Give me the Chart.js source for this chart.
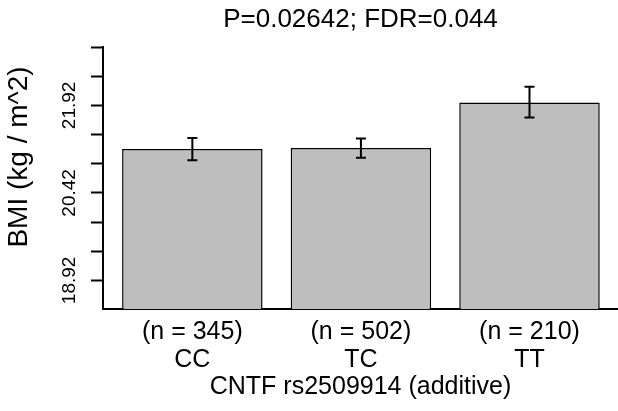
<!DOCTYPE html>
<html lang="en">
<head>
    <title>CNTF rs2509914 BMI</title>
    <meta charset="utf-8">
    <script src="https://cdn.jsdelivr.net/npm/chart.js"></script>
</head>
<style>
  body {
    margin: 0;
    background-color: #ffffff;
    overflow: hidden;
  }

  .chart-box {
    width: 618px;
    height: 411px;
  }
</style>
<body>

  <div class="chart-box">
    <canvas id="myChart"></canvas>
  </div>

  <script>
    const genotypes = ["CC", "TC", "TT"];
    const sampleSizes = ["(n = 345)", "(n = 502)", "(n = 210)"];
    const bmiMeans = [21.17, 21.19, 21.97];
    const bmiLower = [20.98, 21.02, 21.71];
    const bmiUpper = [21.36, 21.35, 22.24];
    const yTicks = [18.92, 19.42, 19.92, 20.42, 20.92, 21.42, 21.92, 22.42, 22.92];
    const yTickLabels = ["18.92", "20.42", "21.92"];
    const yAxisTitle = "BMI (kg / m^2)";

    // R barplot layout: width 1, space 0.2
    const barX = i => 0.7 + 1.2 * i;

    const fontFamily = "'Liberation Sans', Arial, Helvetica, sans-serif";

    const errorBars = {
      id: "errorBars",
      afterDatasetsDraw(chart) {
        const ctx = chart.ctx;
        const y = chart.scales.y;
        const bars = chart.getDatasetMeta(0).data;
        ctx.save();
        ctx.strokeStyle = "#000";
        ctx.lineWidth = 2;
        bars.forEach((bar, i) => {
          const top = y.getPixelForValue(bmiUpper[i]);
          const bot = y.getPixelForValue(bmiLower[i]);
          ctx.beginPath();
          ctx.moveTo(bar.x, top);
          ctx.lineTo(bar.x, bot);
          ctx.moveTo(bar.x - 5, top);
          ctx.lineTo(bar.x + 5, top);
          ctx.moveTo(bar.x - 5, bot);
          ctx.lineTo(bar.x + 5, bot);
          ctx.stroke();
        });
        ctx.restore();
      }
    };

    // y label sits a bit above the middle of the axis, like the R plot
    const yTitle = {
      id: "yTitle",
      afterDraw(chart) {
        const ctx = chart.ctx;
        ctx.save();
        ctx.translate(19, 157);
        ctx.rotate(-Math.PI / 2);
        ctx.font = "28px " + fontFamily;
        ctx.fillStyle = "#000";
        ctx.textAlign = "center";
        ctx.textBaseline = "middle";
        ctx.fillText(yAxisTitle, 0, 0);
        ctx.restore();
      }
    };

    new Chart("myChart", {
      type: "bar",
      data: {
        datasets: [{
          data: bmiMeans.map((v, i) => ({ x: barX(i), y: v })),
          backgroundColor: "#bebebe",
          borderColor: "#000",
          borderWidth: 1.5,
          categoryPercentage: 1,
          barPercentage: 1 / 1.2
        }]
      },
      options: {
        responsive: true,
        maintainAspectRatio: false,
        animation: false,
        layout: { padding: 0 },
        plugins: {
          legend: { display: false },
          tooltip: { enabled: false },
          title: {
            display: true,
            fullSize: false,
            text: "P=0.02642; FDR=0.044",
            color: "#000",
            font: { family: fontFamily, size: 26, weight: "normal", lineHeight: 1.2 },
            padding: { top: 4.4, bottom: 11.4 }
          }
        },
        scales: {
          x: {
            type: "linear",
            offset: false,
            min: 0.064,
            max: 3.73,
            afterBuildTicks: scale => {
              scale.ticks = genotypes.map((g, i) => ({ value: barX(i) }));
            },
            afterFit: scale => { scale.height = 102; },
            grid: { display: false, drawTicks: false, offset: false },
            border: { display: true, color: "#000", width: 2 },
            ticks: {
              color: "#000",
              padding: 9,
              autoSkip: false,
              maxRotation: 0,
              font: { family: fontFamily, size: 25, lineHeight: 1.12 },
              callback: (value, index) => [sampleSizes[index], genotypes[index]]
            },
            title: {
              display: true,
              text: "CNTF rs2509914 (additive)",
              color: "#000",
              font: { family: fontFamily, size: 25, lineHeight: 1.2 },
              padding: { top: 0, bottom: 9 }
            }
          },
          y: {
            type: "linear",
            min: 18.43,
            max: 22.92,
            afterBuildTicks: scale => {
              scale.ticks = yTicks.map(v => ({ value: v }));
            },
            afterFit: scale => { scale.width = 103; },
            grid: {
              drawOnChartArea: false,
              drawTicks: true,
              tickLength: 12,
              tickWidth: 2,
              tickColor: "#000"
            },
            border: { display: true, color: "#000", width: 2 },
            ticks: {
              color: "#000",
              autoSkip: false,
              minRotation: 90,
              maxRotation: 90,
              crossAlign: "center",
              padding: -3,
              font: { family: fontFamily, size: 19 },
              callback: value => {
                const s = value.toFixed(2);
                return yTickLabels.includes(s) ? s : "";
              }
            },
            title: { display: false }
          }
        }
      },
      plugins: [errorBars, yTitle]
    });
  </script>

</body>
</html>
